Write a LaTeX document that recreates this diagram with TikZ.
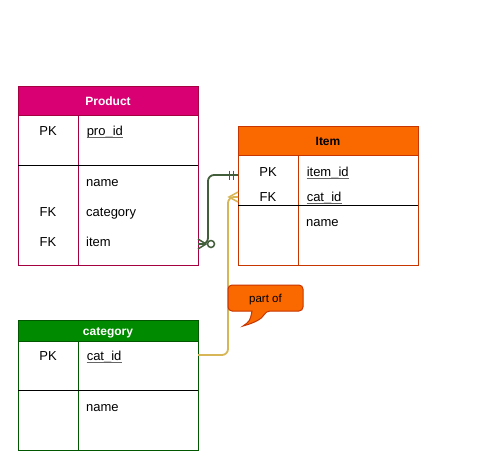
\documentclass[tikz,border=0pt]{standalone}
\usepackage{fontspec}
\setmainfont{Liberation Sans}
\definecolor{magfill}{HTML}{D80073}
\definecolor{magline}{HTML}{A50040}
\definecolor{orfill}{HTML}{FA6800}
\definecolor{orline}{HTML}{C73500}
\definecolor{grfill}{HTML}{008A00}
\definecolor{grline}{HTML}{005700}
\definecolor{edgegreen}{HTML}{435E3A}
\definecolor{edgeyellow}{HTML}{D6B656}
\newcommand{\ul}[1]{\tikz[baseline=(u.base)]{\node[inner sep=0pt](u){#1};\draw[gray!80!black, line width=0.7pt] ([yshift=-2pt]u.base west) -- ([yshift=-2pt]u.base east);}}
\begin{document}
\begin{tikzpicture}[x=1pt,y=-1pt,
  font=\fontsize{13}{15}\selectfont,
  tbl/.style={draw, line width=1pt, minimum width=180pt, anchor=north west, inner sep=0pt, outer sep=0pt},
  hdrtext/.style={font=\fontsize{12}{14}\selectfont\bfseries, anchor=base},
  keytext/.style={anchor=base, inner sep=0pt},
  fldtext/.style={anchor=base west, inner sep=0pt},
  edgeG/.style={draw=edgegreen, line width=1.8pt, rounded corners=6pt},
  edgeY/.style={draw=edgeyellow, line width=1.8pt, rounded corners=6pt},
  sep/.style={draw=black, line width=1pt}
]
\useasboundingbox (0,0) rectangle (485,451);
\fill[white] (0,0) rectangle (485,451);

% ---------- Product ----------
\fill[magfill] (18,86) rectangle (198,115);
\node[tbl, draw=magline, minimum height=179pt] (prod) at (18,86) {};
\draw[magline, line width=1pt] (18,115) -- (198,115);
\draw[magline, line width=1pt] (78,115) -- (78,265);
\draw[sep] (18,165) -- (198,165);
\node[hdrtext, text=white] (prodT) at (108,105) {Product};
\node[keytext] (prodPK) at (48,135) {PK};
\node[fldtext] (prodId) at (86,135) {\ul{pro\_id}};
\node[fldtext] (prodName) at (86,186) {name};
\node[keytext] (prodFK1) at (48,216) {FK};
\node[fldtext] (prodCat) at (86,216) {category};
\node[keytext] (prodFK2) at (48,246) {FK};
\node[fldtext] (prodItem) at (86,246) {item};

% ---------- Item ----------
\fill[orfill] (238,126) rectangle (418,155);
\node[tbl, draw=orline, minimum height=139pt] (item) at (238,126) {};
\draw[orline, line width=1pt] (238,155) -- (418,155);
\draw[orline, line width=1pt] (298,155) -- (298,265);
\draw[sep] (238,205) -- (418,205);
\node[hdrtext, text=black] (itemT) at (328,145) {Item};
\node[keytext] (itemPK) at (268,176) {PK};
\node[fldtext] (itemId) at (306,176) {\ul{item\_id}};
\node[keytext] (itemFK) at (268,201) {FK};
\node[fldtext] (itemCat) at (306,201) {\ul{cat\_id}};
\node[fldtext] (itemName) at (306,226) {name};

% ---------- category ----------
\fill[grfill] (18,320) rectangle (198,341);
\node[tbl, draw=grline, minimum height=130pt] (cat) at (18,320) {};
\draw[grline, line width=1pt] (18,341) -- (198,341);
\draw[grline, line width=1pt] (78,341) -- (78,450);
\draw[sep] (18,390) -- (198,390);
\node[hdrtext, text=white] (catT) at (108,335) {category};
\node[keytext] (catPK) at (48,360) {PK};
\node[fldtext] (catId) at (86,360) {\ul{cat\_id}};
\node[fldtext] (catName) at (86,411) {name};

% ---------- connectors ----------
\coordinate (gA) at (prod.east |- 0,244);
\coordinate (gB) at (item.west |- 0,175);
\path[edgeG] (gA) -- ++(10,0) |- (gB);
% crow's foot (zero or many) at Product
\draw[edgegreen, line width=1.5pt] (prod.east |- 0,239) -- (206,244) -- (prod.east |- 0,249);
\draw[edgegreen, line width=1.5pt] (gA) -- (206,244);
\draw[edgegreen, line width=1.5pt, fill=white] (211,244) circle[radius=3.5];
% one mandatory at Item
\draw[edgegreen, line width=1.5pt] (229.5,170.5) -- (229.5,179.5);
\draw[edgegreen, line width=1.5pt] (233.5,170.5) -- (233.5,179.5);

\coordinate (yA) at (cat.east |- 0,355);
\coordinate (yB) at (item.west |- 0,197);
\path[edgeY] (yA) -- (228,355) |- (yB);
% crow's foot (many) at Item
\draw[edgeyellow, line width=1.5pt] (item.west |- 0,192) -- (229,197) -- (item.west |- 0,202);

% ---------- callout ----------
\draw[fill=orfill, draw=orline, line width=1pt, rounded corners=4pt]
  (228,285) -- (303,285) -- (303,311) -- (266,311)
  [sharp corners] .. controls (262,319) and (254,323) .. (243,326)
  .. controls (250,321) .. (252,311)
  [rounded corners=4pt] -- (228,311) -- cycle;
\node[inner sep=0pt, anchor=base, font=\fontsize{11.5}{13}\selectfont] (partof) at (265.5,302) {part of};
\end{tikzpicture}
\end{document}
